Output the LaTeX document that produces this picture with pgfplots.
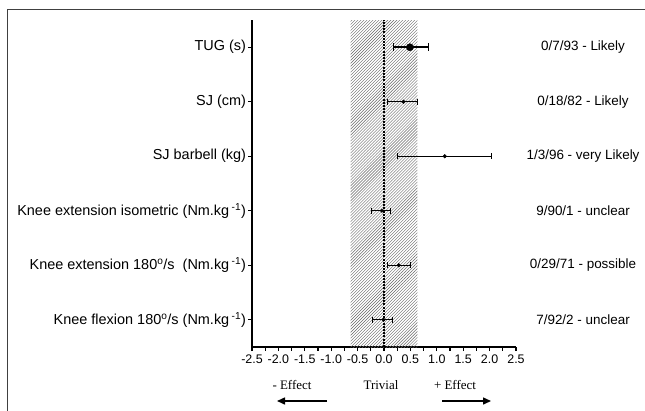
\documentclass[border=0pt]{standalone}
\usepackage{pgfplots}
\pgfplotsset{compat=1.18}
\usepackage{fontspec}
\setmainfont{Liberation Sans}
\newfontfamily\timesfont{Liberation Serif}
\usetikzlibrary{patterns,arrows.meta}

\begin{document}
\begin{tikzpicture}
\path[use as bounding box] (0,0) rectangle (645bp,-411bp);
\draw[black!75, line width=0.9bp] (7bp,-411bp) -- (7bp,-9bp) -- (645bp,-9bp);

\begin{axis}[
at={(252bp,-347bp)}, anchor=south west,
scale only axis,
width=264bp, height=327bp,
xmin=-2.5, xmax=2.5,
ymin=0.5, ymax=6.5,
axis lines*=left,
axis line style={line width=1.6bp},
clip=false,
xtick={-2.5,-2,-1.5,-1,-0.5,0,0.5,1,1.5,2,2.5},
minor x tick num=1,
/pgf/number format/fixed,
/pgf/number format/fixed zerofill,
/pgf/number format/precision=1,
/pgf/number format/assume math mode=true,
xticklabel style={font=\fontsize{12.5}{14}\selectfont},
x tick style={line width=1.1bp, black},
xtick align=outside,
major tick length=4bp,
minor tick length=3.5bp,
ytick={1,2,3,4,5,6},
yticklabels={
Knee flexion 180\textsuperscript{o}/s (Nm.kg\,\textsuperscript{-1}),
Knee extension 180\textsuperscript{o}/s\ \ (Nm.kg\,\textsuperscript{-1}),
Knee extension isometric (Nm.kg\,\textsuperscript{-1}),
SJ barbell (kg),
SJ (cm),
TUG (s)},
yticklabel style={font=\fontsize{14.5}{16}\selectfont, xshift=1.5bp},
ytick align=outside,
y tick style={line width=1.2bp, black},
]

% trivial zone
\addplot[draw=none, pattern=north east lines, pattern color=black!60]
coordinates {(-0.63,0.5) (0.63,0.5) (0.63,6.5) (-0.63,6.5)} -- cycle;

% zero line
\addplot[black, line width=1.4bp, dash pattern=on 2bp off 1.2bp]
coordinates {(0,0.5) (0,6.5)};

% TUG
\addplot[black, only marks, mark=*, mark size=3.6bp,
  error bars/.cd, x dir=both, x explicit, error mark=|,
  error bar style={line width=1.8bp},
  error mark options={line width=1.5bp, mark size=3.8bp}]
coordinates {(0.49,6) -= (0.31,0) += (0.35,0)};

% other outcomes
\addplot[black, only marks, mark=*, mark size=1.8bp,
  error bars/.cd, x dir=both, x explicit, error mark=|,
  error bar style={line width=1bp},
  error mark options={line width=1bp, mark size=3.2bp}]
coordinates {
(0.37,5) -= (0.30,0) += (0.27,0)
(1.15,4) -= (0.89,0) += (0.88,0)
(-0.04,3) -= (0.19,0) += (0.16,0)
(0.28,2) -= (0.22,0) += (0.23,0)
(-0.01,1) -= (0.21,0) += (0.17,0)
};

\begin{scope}[every node/.style={font=\fontsize{13.5}{15}\selectfont, anchor=center}]
\node at (axis cs:3.77,6) {0/7/93 - Likely};
\node at (axis cs:3.77,5) {0/18/82 - Likely};
\node at (axis cs:3.77,4) {1/3/96 - very Likely};
\node at (axis cs:3.77,3) {9/90/1 - unclear};
\node at (axis cs:3.77,2) {0/29/71 - possible};
\node at (axis cs:3.77,1) {7/92/2 - unclear};
\end{scope}
\end{axis}

\begin{scope}[every node/.style={font=\timesfont\fontsize{13}{15}\selectfont}]
\node at (292bp,-385bp) {- Effect};
\node at (381bp,-385bp) {Trivial};
\node at (455bp,-385bp) {+ Effect};
\end{scope}
\draw[line width=1.5bp, -{Triangle[length=8bp,width=7bp]}] (327bp,-401bp) -- (277bp,-401bp);
\draw[line width=1.5bp, -{Triangle[length=8bp,width=7bp]}] (442bp,-401bp) -- (491bp,-401bp);
\end{tikzpicture}
\end{document}
